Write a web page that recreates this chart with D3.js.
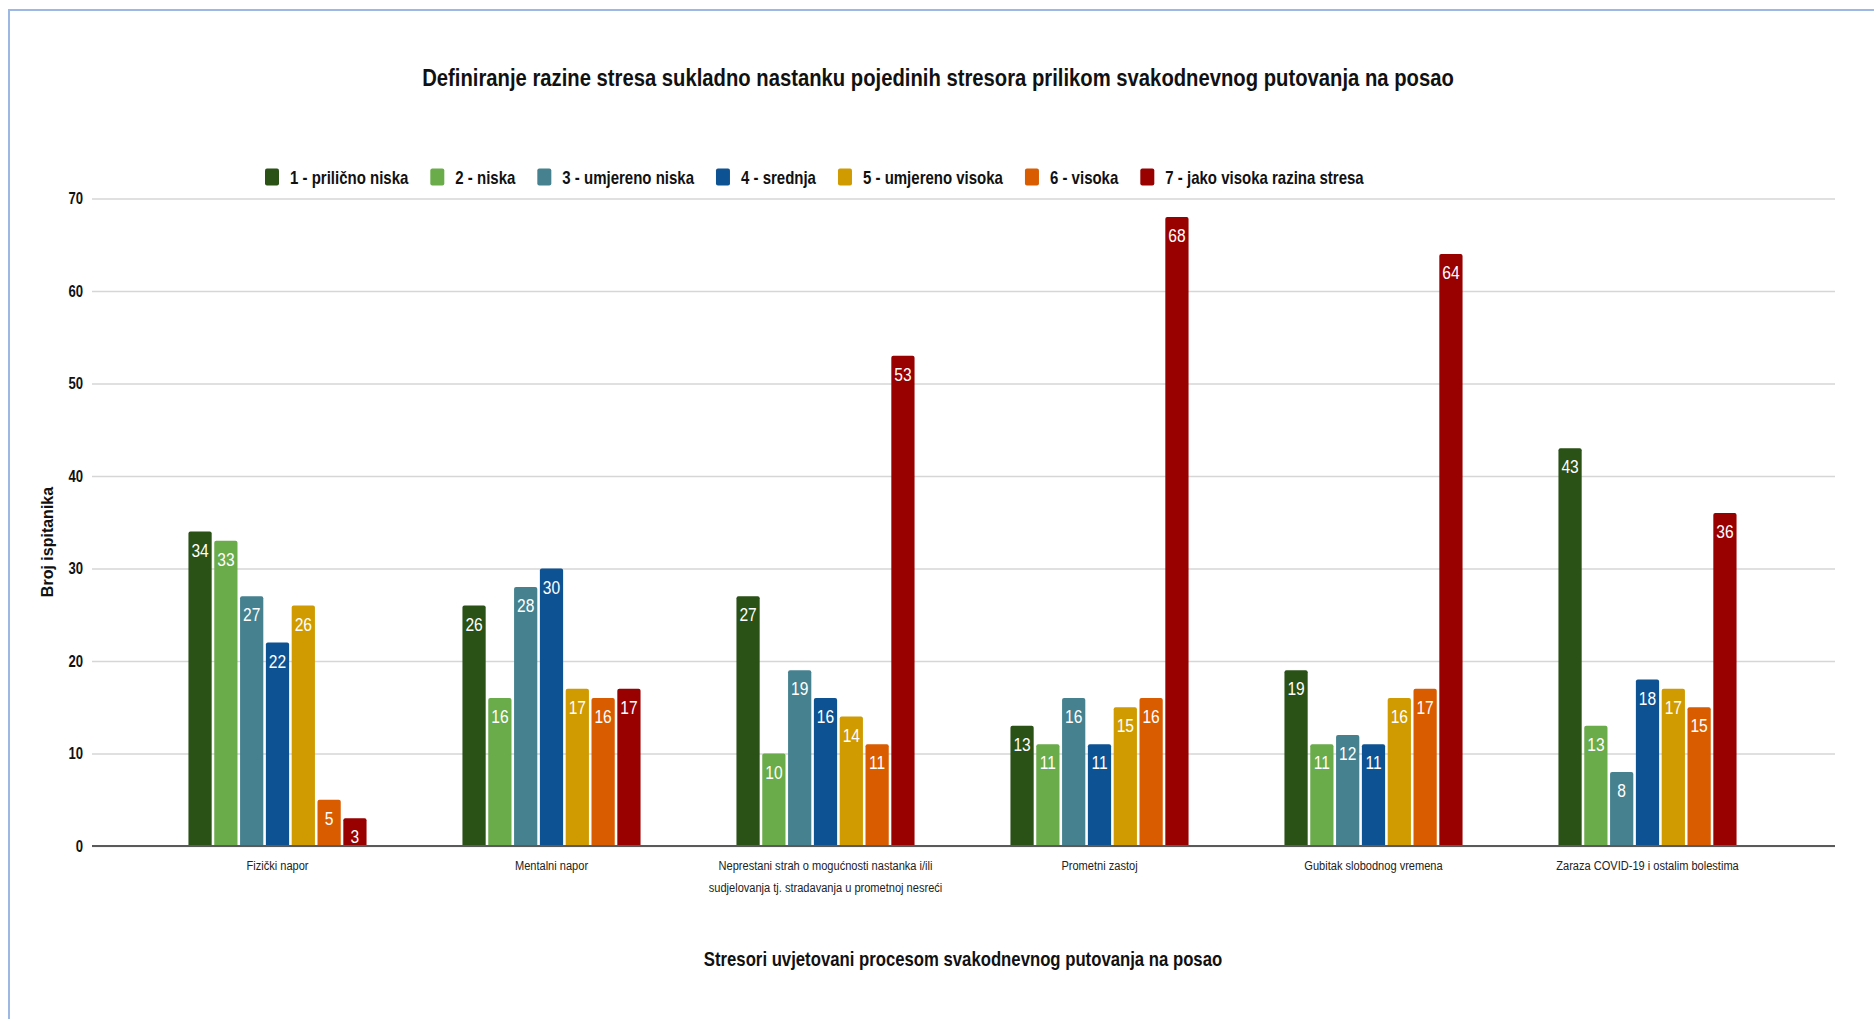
<!DOCTYPE html>
<html>
<head>
<meta charset="utf-8">
<script src="https://cdn.jsdelivr.net/npm/d3@7"></script>
<style>
  body { margin: 0; background: #fff; }
  svg text { font-family: "Liberation Sans", Arial, sans-serif; }
</style>
</head>
<body>
<div id="chart"></div>
<script>
const chartTitle = "Definiranje razine stresa sukladno nastanku pojedinih stresora prilikom svakodnevnog putovanja na posao";
const xTitle = "Stresori uvjetovani procesom svakodnevnog putovanja na posao";
const yTitle = "Broj ispitanika";

const categories = [
  ["Fizički napor"],
  ["Mentalni napor"],
  ["Neprestani strah o mogućnosti nastanka i/ili", "sudjelovanja tj. stradavanja u prometnoj nesreći"],
  ["Prometni zastoj"],
  ["Gubitak slobodnog vremena"],
  ["Zaraza COVID-19 i ostalim bolestima"]
];

const seriesNames = [
  "1 - prilično niska",
  "2 - niska",
  "3 - umjereno niska",
  "4 - srednja",
  "5 - umjereno visoka",
  "6 - visoka",
  "7 - jako visoka razina stresa"
];

const seriesColors = ["#2a5116", "#6aab4a", "#45818e", "#0d5394", "#cf9b00", "#d95c00", "#990000"];

// one row per category, one value per stress level
const values = [
  [34, 33, 27, 22, 26, 5, 3],
  [26, 16, 28, 30, 17, 16, 17],
  [27, 10, 19, 16, 14, 11, 53],
  [13, 11, 16, 11, 15, 16, 68],
  [19, 11, 12, 11, 16, 17, 64],
  [43, 13, 8, 18, 17, 15, 36]
];

const yTicks = [0, 10, 20, 30, 40, 50, 60, 70];

const width = 1874, height = 1019;
const squeeze = 0.82; // no narrow font installed, so squash Liberation Sans

const svg = d3.select("#chart")
  .append("svg")
  .attr("width", width)
  .attr("height", height);

// text placed at (x, y) and squeezed horizontally
const narrowText = (parent, x, y, str, size, bold) =>
  parent.append("text")
    .attr("transform", `translate(${x},${y}) scale(${squeeze},1)`)
    .attr("fill", "#111")
    .style("font-size", size + "px")
    .style("font-weight", bold ? "bold" : "normal")
    .text(str);

// outer frame
svg.append("path")
  .attr("d", `M9,${height} V10 H${width}`)
  .attr("fill", "none")
  .attr("stroke", "#9db8e2")
  .attr("stroke-width", 2);

const y = d3.scaleLinear().domain([0, 70]).range([846, 198.5]);

const x0 = d3.scaleBand()
  .domain(d3.range(categories.length))
  .range([140.5, 1784.5])
  .paddingInner(0.35)
  .paddingOuter(0.175);

const x1 = d3.scaleBand()
  .domain(d3.range(seriesNames.length))
  .range([0, x0.bandwidth()])
  .paddingInner(0.1);

// gridlines + y labels
const yAxis = d3.axisLeft(y)
  .tickValues(yTicks)
  .tickSize(-(1835 - 92))
  .tickPadding(9)
  .tickFormat(d3.format("d"));

const gy = svg.append("g")
  .attr("transform", "translate(92,0)")
  .call(yAxis);
gy.select(".domain").remove();
gy.selectAll(".tick line").attr("stroke", "#d6d6d6").attr("stroke-width", 1.5);
gy.selectAll(".tick text")
  .attr("x", -9 / squeeze)
  .attr("transform", `scale(${squeeze},1)`)
  .attr("fill", "#111")
  .style("font-size", "16px")
  .style("font-weight", "bold");

// bars
const groups = svg.append("g")
  .selectAll("g")
  .data(values)
  .enter()
  .append("g")
  .attr("transform", (d, i) => `translate(${x0(i)},0)`);

const bars = groups.selectAll("g")
  .data((d) => d.map((v, j) => ({ v, j })))
  .enter()
  .append("g");

bars.append("path")
  .attr("fill", (d) => seriesColors[d.j])
  .attr("d", (d) => {
    const bx = x1(d.j), bw = x1.bandwidth(), top = y(d.v), bot = y(0), r = 2;
    return `M${bx},${bot} V${top + r} Q${bx},${top} ${bx + r},${top} H${bx + bw - r} Q${bx + bw},${top} ${bx + bw},${top + r} V${bot} Z`;
  });

bars.each(function (d) {
  narrowText(d3.select(this), x1(d.j) + x1.bandwidth() / 2, y(d.v) + 25, d.v, 19, false)
    .attr("text-anchor", "middle")
    .attr("fill", "#fff");
});

// baseline
svg.append("line")
  .attr("x1", 92).attr("x2", 1835)
  .attr("y1", y(0)).attr("y2", y(0))
  .attr("stroke", "#5a5a5a")
  .attr("stroke-width", 2);

// category labels
categories.forEach((lines, i) => {
  lines.forEach((line, k) => {
    narrowText(svg, x0(i) + x0.bandwidth() / 2, 870 + k * 22, line, 13.5, false)
      .attr("text-anchor", "middle")
      .attr("fill", "#222");
  });
});

// titles
narrowText(svg, 938, 86, chartTitle, 24.7, true).attr("text-anchor", "middle");
narrowText(svg, 963, 966, xTitle, 20.4, true).attr("text-anchor", "middle");

svg.append("text")
  .attr("transform", "translate(53,542) rotate(-90)")
  .attr("text-anchor", "middle")
  .attr("fill", "#111")
  .style("font-size", "16px")
  .style("font-weight", "bold")
  .text(yTitle);

// legend
const legend = svg.append("g").attr("transform", "translate(265,177)");
let lx = 0;
seriesNames.forEach((name, i) => {
  const item = legend.append("g").attr("transform", `translate(${lx},0)`);
  item.append("rect")
    .attr("x", 0).attr("y", -8.5)
    .attr("width", 14).attr("height", 17)
    .attr("rx", 2)
    .attr("fill", seriesColors[i]);
  const t = narrowText(item, 25, 6.5, name, 18.3, true);
  lx += 25 + t.node().getComputedTextLength() * squeeze + 22;
});
</script>
</body>
</html>
